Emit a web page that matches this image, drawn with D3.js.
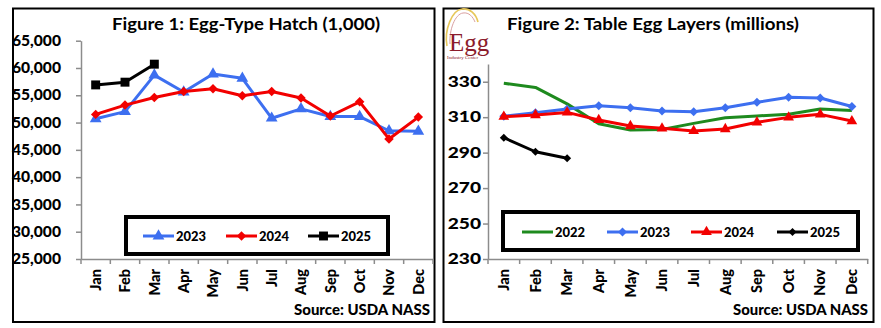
<!DOCTYPE html>
<html><head><meta charset="utf-8">
<script src="https://cdn.jsdelivr.net/npm/d3@7"></script>
<style>
html,body{margin:0;padding:0;background:#fff;}
text{font-family:Lato,"Open Sans",sans-serif;font-weight:bold;fill:#000;}
</style></head>
<body><svg id="c" width="881" height="328"></svg>
<script>
const months = ["Jan","Feb","Mar","Apr","May","Jun","Jul","Aug","Sep","Oct","Nov","Dec"];
// Figure 1: Egg-Type Hatch (1,000)
const hatch2023 = [50700, 52000, 58700, 55600, 58900, 58100, 50800, 52500, 51100, 51100, 48500, 48400];
const hatch2024 = [51500, 53200, 54600, 55700, 56200, 54900, 55700, 54500, 51200, 53800, 47000, 51000];
const hatch2025 = [56900, 57400, 60700];
const hatchTicks = [25000, 30000, 35000, 40000, 45000, 50000, 55000, 60000, 65000];
// Figure 2: Table Egg Layers (millions)
const layers2022 = [329.1, 326.8, 317.5, 306.3, 302.8, 303.1, 306.5, 309.7, 310.7, 311.6, 314.6, 313.7];
const layers2023 = [310.5, 312.5, 314.6, 316.5, 315.3, 313.5, 313.1, 315.3, 318.4, 321.2, 320.8, 316.0];
const layers2024 = [310.3, 311.2, 312.7, 308.4, 305.0, 303.7, 302.2, 303.3, 307.1, 309.9, 311.6, 307.8];
const layers2025 = [298.4, 290.5, 286.8];
const layerTicks = [230, 250, 270, 290, 310, 330];

const BLUE = "#3d6ff0", RED = "#f20000", GREEN = "#1e8a1e", BLACK = "#000";
const svg = d3.select("#c");

function fitW(sel, w){ sel.each(function(){ this.setAttribute("textLength", w); this.setAttribute("lengthAdjust","spacingAndGlyphs"); }); }
function stretch(sel, f){ sel.each(function(){ const l=this.getComputedTextLength(); this.setAttribute("textLength", l*f); this.setAttribute("lengthAdjust","spacingAndGlyphs"); }); }

function panel(cfg){
  const g = svg.append("g");
  g.append("rect").attr("x", cfg.box[0]).attr("y", cfg.box[1]).attr("width", cfg.box[2]).attr("height", cfg.box[3])
    .attr("fill","#fff").attr("stroke","#000").attr("stroke-width",2);
  const x = d3.scaleBand().domain(months).range(cfg.xr);
  const y = d3.scaleLinear().domain(cfg.yd).range(cfg.yr);
  const cx = m => x(m) + x.bandwidth()/2;

  const ya = g.append("g").attr("transform",`translate(${cfg.xr[0]},0)`)
    .call(d3.axisLeft(y).tickValues(cfg.ticks).tickSize(5).tickSizeOuter(0).tickPadding(cfg.yPad).tickFormat(cfg.fmt));
  ya.select(".domain").attr("stroke","#8c8c8c").attr("stroke-width",1.5);
  ya.selectAll(".tick line").attr("stroke","#8c8c8c").attr("stroke-width",1.5);
  ya.selectAll("text").style("font-size","14.5px").style("font-weight","900");
  stretch(ya.selectAll("text"), cfg.yStretch);

  const xa = g.append("g").attr("transform",`translate(0,${cfg.yr[0]})`)
    .call(d3.axisBottom(x).tickSize(0).tickSizeOuter(0).tickFormat(""));
  xa.select(".domain").attr("stroke","#8c8c8c").attr("stroke-width",1.5);
  const bounds = months.map(m => x(m)).concat([cfg.xr[1]]);
  g.selectAll(null).data(bounds).enter().append("line")
    .attr("x1", d=>d).attr("x2", d=>d).attr("y1", cfg.yr[0]).attr("y2", cfg.yr[0]+5)
    .attr("stroke","#8c8c8c").attr("stroke-width",1.5);
  g.selectAll(null).data(months).enter().append("text")
    .attr("transform", m => `translate(${cx(m)},${cfg.yr[0]+10}) rotate(-90)`)
    .attr("text-anchor","end").attr("dy","0.36em").style("font-size","14.5px").style("font-weight","900").text(m=>m);

  cfg.series.forEach(s => {
    const line = d3.line().x((d,i)=>cx(months[i])).y(d=>y(d));
    g.append("path").attr("d", line(s.values)).attr("fill","none").attr("stroke", s.color)
      .attr("stroke-width",3).attr("stroke-linejoin","round");
    if (s.symbol) {
      g.selectAll(null).data(s.values).enter().append("path")
        .attr("d", d3.symbol().type(s.symbol).size(s.size))
        .attr("transform", (d,i)=>`translate(${cx(months[i])},${y(d)})${s.rot?" rotate(45)":""}`)
        .attr("fill", s.color);
    }
  });

  const t = g.append("text").attr("x", cfg.title[1]).attr("y", 30).style("font-size","17.5px").text(cfg.title[0]);
  fitW(t, cfg.title[2]);
  const src = g.append("text").attr("x", cfg.src[0]).attr("y", 315).style("font-size","14.5px").style("font-weight","900").text("Source: USDA NASS");
  fitW(src, cfg.src[1]);

  const L = cfg.legend;
  g.append("rect").attr("x", L.box[0]).attr("y", L.box[1]).attr("width", L.box[2]).attr("height", L.box[3])
    .attr("fill","#fff").attr("stroke","#000").attr("stroke-width",4);
  cfg.series.forEach((s,i) => {
    const x0 = L.items[i];
    g.append("line").attr("x1", x0).attr("x2", x0+31).attr("y1", L.y).attr("y2", L.y)
      .attr("stroke", s.color).attr("stroke-width",3);
    if (s.symbol) g.append("path").attr("d", d3.symbol().type(s.symbol).size(s.size))
      .attr("transform",`translate(${x0+15.5},${L.y})${s.rot?" rotate(45)":""}`).attr("fill", s.color);
    const lt = g.append("text").attr("x", x0+33).attr("y", L.y).attr("dy","0.36em").style("font-size","14px").style("font-weight","900").text(s.name);
    fitW(lt, 30);
  });
  return g;
}

panel({
  box:[13, 8.5, 421.5, 313.5],
  xr:[81, 433], yd:[25000, 65000], yr:[259, 40.7],
  ticks: hatchTicks, fmt: d3.format(","), yPad: 15, yStretch: 1.08,
  title:["Figure 1: Egg-Type Hatch (1,000)", 112, 268],
  src:[294, 136],
  legend:{box:[126, 217, 262, 37], y:236, items:[143, 226, 308]},
  series:[
    {name:"2023", values:hatch2023, color:BLUE, symbol:d3.symbolTriangle, size:60},
    {name:"2024", values:hatch2024, color:RED, symbol:d3.symbolSquare, size:45, rot:true},
    {name:"2025", values:hatch2025, color:BLACK, symbol:d3.symbolSquare, size:80}
  ]
});

panel({
  box:[443.5, 8.5, 430, 313.5],
  xr:[488, 867.7], yd:[230, 340], yr:[259, 64],
  ticks: layerTicks, fmt: d3.format("d"), yPad: 2, yStretch: 1.32,
  title:["Figure 2: Table Egg Layers (millions)", 507, 292],
  src:[733, 135],
  legend:{box:[503, 212, 355, 38], y:232, items:[522, 607, 691, 777]},
  series:[
    {name:"2022", values:layers2022, color:GREEN},
    {name:"2023", values:layers2023, color:BLUE, symbol:d3.symbolSquare, size:40, rot:true},
    {name:"2024", values:layers2024, color:RED, symbol:d3.symbolTriangle, size:50},
    {name:"2025", values:layers2025, color:BLACK, symbol:d3.symbolSquare, size:32, rot:true}
  ]
});

// logo
const logo = svg.append("g");
logo.append("path").attr("d","M447,46 C444,30 452,10 462,9 C470,8 476,14 478,22")
  .attr("fill","none").attr("stroke","#e7c75a").attr("stroke-width",1.6);
logo.append("path").attr("d","M450,44 C449,30 455,14 463,13 C469,12 473,17 475,22")
  .attr("fill","none").attr("stroke","#d9a0a0").attr("stroke-width",1);
logo.append("text").attr("x",449).attr("y",51).style("font-family","'Liberation Serif','DejaVu Serif',serif")
  .style("font-weight","normal").style("font-size","25px").style("fill","#8c1c2c").text("Egg");
logo.append("text").attr("x",447).attr("y",59).style("font-family","'Liberation Serif',serif")
  .style("font-weight","normal").style("font-size","5px").style("fill","#8c1c2c").text("Industry Center");
</script></body></html>
